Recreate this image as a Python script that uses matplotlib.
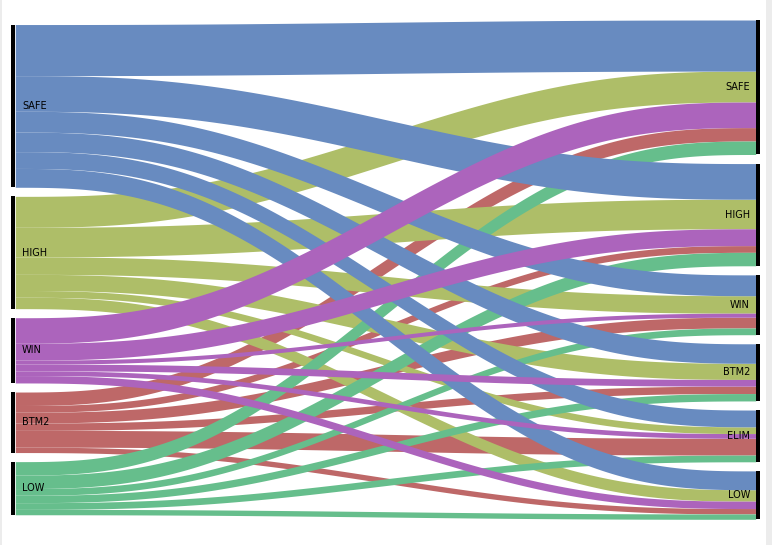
import numpy as np
import matplotlib
matplotlib.use("Agg")
import matplotlib.pyplot as plt
from matplotlib.patches import Rectangle

# outcome this week (left) -> outcome next week (right)
left_labels = ['SAFE', 'HIGH', 'WIN', 'BTM2', 'LOW']
right_labels = ['SAFE', 'HIGH', 'WIN', 'BTM2', 'ELIM', 'LOW']

# rows = left label, columns = right label
flow_safe = [76, 53, 31, 29, 25, 28]
flow_high = [46, 44, 26, 24, 10, 17]
flow_win = [38, 25, 6, 10, 7, 11]
flow_btm2 = [20, 10, 16, 11, 25, 8]
flow_low = [20, 20, 10, 11, 10, 8]

colors = {
    'SAFE': '#688BC0',
    'HIGH': '#AEBE68',
    'WIN': '#AC64BC',
    'BTM2': '#BE6868',
    'LOW': '#66BE8C',
}

flows = np.array([flow_safe, flow_high, flow_win, flow_btm2, flow_low], dtype=float)
total = flows.sum()
gap = 0.02 * total

left_sums = flows.sum(axis=1)
right_sums = flows.sum(axis=0)
left_span = left_sums.sum() + gap * (len(left_labels) - 1)
right_span = right_sums.sum() + gap * (len(right_labels) - 1)
span = max(left_span, right_span)

# node tops (y grows downwards), both sides centred
left_top = {}
y = (span - left_span) / 2
for lab, s in zip(left_labels, left_sums):
    left_top[lab] = y
    y += s + gap
right_top = {}
y = (span - right_span) / 2
for lab, s in zip(right_labels, right_sums):
    right_top[lab] = y
    y += s + gap

# strip end positions
left_pos = {}
for i, l in enumerate(left_labels):
    y = left_top[l]
    for j, r in enumerate(right_labels):
        left_pos[(l, r)] = (y, y + flows[i, j])
        y += flows[i, j]
right_pos = {}
for j, r in enumerate(right_labels):
    y = right_top[r]
    for i, l in enumerate(left_labels):
        right_pos[(l, r)] = (y, y + flows[i, j])
        y += flows[i, j]

W, H = 772, 545
fig = plt.figure(figsize=(W / 100, H / 100), dpi=100)
ax = fig.add_axes([0, 0, 1, 1])

top_px, span_px = 20, 499.3
scale = span_px / span
ax.set_xlim(0, W)
ax.set_ylim((H - top_px) / scale, -top_px / scale)
ax.axis('off')

x0, x1 = 15.3, 755.7
xs = np.linspace(x0, x1, 300)
t = (xs - x0) / (x1 - x0)
s = 6 * t**5 - 15 * t**4 + 10 * t**3

# draw strips, alphabetical by source label
for l in sorted(left_labels):
    i = left_labels.index(l)
    for j, r in enumerate(right_labels):
        if flows[i, j] <= 0:
            continue
        lt, lb = left_pos[(l, r)]
        rt, rb = right_pos[(l, r)]
        ax.fill_between(xs, lt + (rt - lt) * s, lb + (rb - lb) * s,
                        color=colors[l], lw=0, zorder=2)

# node bars and labels
for lab, ssum in zip(left_labels, left_sums):
    y0 = left_top[lab]
    ax.fill_between([11, x0], y0, y0 + ssum, color='black', lw=0, zorder=3)
    ax.text(22, y0 + ssum / 2, lab, ha='left', va='center', fontsize=7, zorder=4)
for lab, ssum in zip(right_labels, right_sums):
    y0 = right_top[lab]
    ax.fill_between([x1, 760.3], y0, y0 + ssum, color='black', lw=0, zorder=3)
    ax.text(750, y0 + ssum / 2, lab, ha='right', va='center', fontsize=7, zorder=4)

# faint frame edges seen at the picture sides
fig.patches.append(Rectangle((0, 0), 2 / W, 1, transform=fig.transFigure,
                             color='#ececec', lw=0))
fig.patches.append(Rectangle((766 / W, 0), 6 / W, 1, transform=fig.transFigure,
                             color='#ececec', lw=0))

fig.savefig('out.png', dpi=100)
